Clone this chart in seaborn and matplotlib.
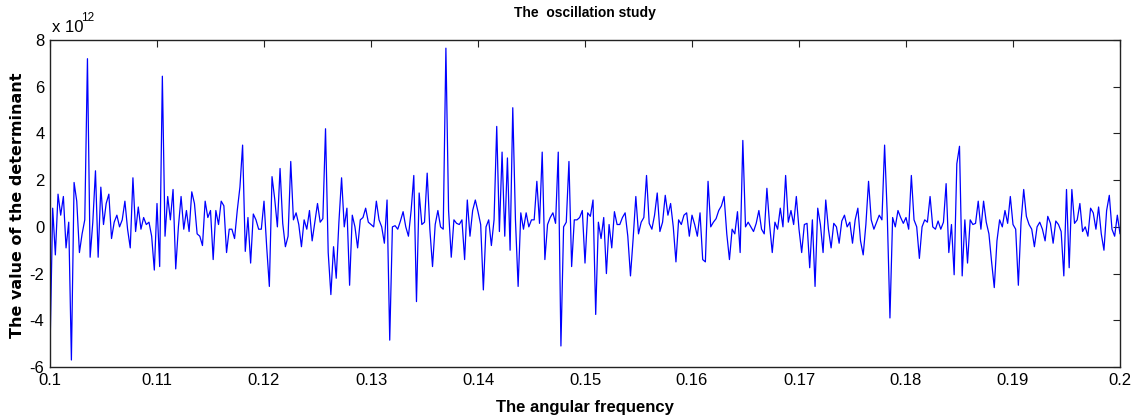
import numpy as np
import pandas as pd
import seaborn as sns
import matplotlib
matplotlib.use("Agg")
import matplotlib.pyplot as plt

# determinant values (units of 1e12), one list per 0.01 band
band_010 = [-5.3, 0.8, -1.2, 1.4, 0.5, 1.3, -0.9, 0.2, -5.7, 1.9,
            1.1, -1.1, -0.3, 0.3, 7.2, -1.3, 0.2, 2.4, -1.3, 1.7,
            0.1, 1.0, 1.4, -0.5, 0.2, 0.5, 0.0, 0.3, 1.1, -0.1,
            -0.9, 2.1, -0.2, 0.85, -0.1, 0.4, 0.1, 0.2, -0.4, -1.85]
band_011 = [1.0, -1.7, 6.45, -0.4, 1.3, 0.3, 1.6, -1.8, 0.0, 1.3,
            -0.1, 0.7, -0.2, 1.5, 1.0, -0.3, -0.4, -0.8, 1.1, 0.4,
            0.7, -1.4, 0.7, 0.1, 1.1, 0.9, -1.1, -0.1, -0.1, -0.5,
            0.7, 1.7, 3.5, -1.05, 0.4, -1.55, 0.55, 0.3, -0.1, -0.1]
band_012 = [1.1, -0.85, -2.55, 2.15, 1.2, 0.0, 2.5, 0.15, -0.85, -0.4,
            2.8, 0.3, 0.6, 0.1, -0.85, 0.3, -0.1, 0.7, -0.6, 0.2,
            1.0, 0.2, 0.35, 4.2, -1.1, -2.9, -0.85, -2.2, 0.2, 2.1,
            0.0, 0.8, -2.5, 0.5, 0.0, -0.9, 0.3, 0.4, 0.8, 0.2]
band_013 = [0.1, 0.0, 1.1, 0.3, 0.0, -0.7, 1.15, -4.85, 0.0, 0.05,
            -0.1, 0.25, 0.65, 0.0, -0.4, 0.7, 2.2, -3.2, 1.45, 0.1,
            0.2, 2.3, -0.1, -1.7, 0.1, 0.7, 0.0, -0.1, 7.65, 0.7,
            -1.3, 0.3, 0.15, 0.1, 0.3, -1.4, 1.15, -0.4, 0.7, 1.15]
band_014 = [0.65, 0.1, -2.7, 0.0, 0.3, -0.8, 0.3, 4.3, -0.2, 3.2,
            -0.4, 2.95, -1.0, 5.1, 0.3, -2.55, 0.6, -0.1, 0.6, 0.0,
            0.3, 0.3, 1.95, 0.15, 3.2, -1.4, 0.1, 0.4, 0.6, 0.15,
            3.2, -5.1, 0.0, 0.2, 2.8, -1.7, 0.3, 0.3, 0.4, 0.7]
band_015 = [-1.55, 0.6, 0.45, 1.15, -3.75, 0.2, -0.5, 0.4, -2.0, 0.1,
            -0.9, 0.65, 0.1, 0.1, 0.4, 0.6, -0.4, -2.1, -0.5, 1.3,
            -0.3, 0.2, 0.4, 2.2, 0.15, -0.1, 0.5, 1.45, -0.2, 0.2,
            1.35, 0.5, 1.0, 0.0, -1.5, 0.3, 0.1, 0.5, 0.6, -0.4]
band_016 = [0.5, 0.1, -0.4, 0.6, -1.4, -1.5, 1.95, 0.0, 0.2, 0.35,
            0.7, 0.9, 1.3, -0.3, -1.4, -0.1, -0.3, 0.65, -1.1, 3.7,
            0.0, 0.2, 0.0, -0.2, 0.15, 0.7, -0.1, -0.3, 1.65, 0.1,
            -1.1, 0.2, -0.1, 0.8, 0.0, 2.2, 0.2, 0.7, 0.1, 1.3]
band_017 = [-0.1, -1.1, 0.1, 0.15, -1.75, 0.3, -2.55, 0.8, 0.1, -1.1,
            1.15, -0.1, -0.9, 0.15, 0.0, -0.7, 0.25, 0.5, 0.0, 0.2,
            -0.7, 0.3, 0.8, -0.6, -1.2, 0.1, 1.95, 0.3, -0.1, 0.2,
            0.5, 0.3, 3.5, 0.5, -3.9, 0.4, 0.0, 0.7, 0.4, 0.15]
band_018 = [0.4, -0.1, 2.2, 0.3, 0.0, -1.35, 0.0, 0.3, 0.2, 1.3,
            0.0, -0.1, 0.25, -0.1, 0.2, 1.85, -1.1, 0.1, -2.05, 2.7,
            3.45, -2.1, 0.3, -1.55, 0.3, 0.1, 0.15, 1.1, -0.1, 1.1,
            0.2, -0.3, -1.5, -2.6, -0.6, 0.3, 0.0, 0.7, 0.15, 1.3]
band_019 = [0.1, -0.1, -2.5, 0.2, 1.6, 0.45, 0.1, -0.1, -0.85, 0.0,
            0.2, -0.1, -0.6, 0.45, 0.15, -0.7, 0.25, 0.1, -0.2, -2.1,
            1.6, -1.75, 1.6, 0.15, 0.3, 1.0, -0.2, 0.0, -0.4, 0.8,
            0.6, -0.1, 0.85, -0.3, -1.0, 0.7, 1.35, -0.1, -0.4, 0.5, -0.3]

freq_step = 0.00025
x_ticks = [0.1, 0.11, 0.12, 0.13, 0.14, 0.15, 0.16, 0.17, 0.18, 0.19, 0.2]
x_labels = ["0.1", "0.11", "0.12", "0.13", "0.14", "0.15", "0.16", "0.17", "0.18", "0.19", "0.2"]
y_ticks = [-6, -4, -2, 0, 2, 4, 6, 8]

det = (band_010 + band_011 + band_012 + band_013 + band_014 +
       band_015 + band_016 + band_017 + band_018 + band_019)
freq = np.round(0.1 + freq_step * np.arange(len(det)), 6)
df = pd.DataFrame({"w": freq, "det": det})

sns.set_style("white")
plt.rcParams["font.family"] = ["Liberation Sans", "DejaVu Sans"]
plt.rcParams["axes.unicode_minus"] = False
plt.rcParams["text.color"] = "black"

W, H = 1143, 419
fig = plt.figure(figsize=(W / 100, H / 100), dpi=100)
ax = fig.add_axes([50 / W, 1 - 367 / H, 1070 / W, 327 / H])

sns.lineplot(data=df, x="w", y="det", color="#0000ff", linewidth=0.9,
             estimator=None, sort=False, ax=ax)

ax.set_xlim(0.1, 0.2)
ax.set_ylim(-6, 8)
ax.set_xticks(x_ticks)
ax.set_xticklabels(x_labels)
ax.set_yticks(y_ticks)
ax.tick_params(direction="in", top=True, right=True, length=5, width=0.8,
               labelsize=12, pad=4, color="#222222", labelcolor="black")
for s in ax.spines.values():
    s.set_color("#222222")
    s.set_linewidth(1.0)
ax.set_xlabel("")
ax.set_ylabel("")

fig.text(585 / W, 1 - 13 / H, "The  oscillation study", ha="center", va="center",
         fontsize=10, fontweight="bold")
fig.text(585 / W, 1 - 407 / H, "The angular frequency", ha="center", va="center",
         fontsize=12, fontweight="bold")
fig.text(18 / W, 1 - 205 / H, "The value of the determinant", ha="center", va="center",
         rotation=90, fontsize=11.5, fontweight="bold", family=["DejaVu Sans"])
fig.text(52 / W, 1 - 28 / H, "x 10", ha="left", va="center", fontsize=12)
fig.text(81 / W, 1 - 18 / H, "12", ha="left", va="center", fontsize=8.5)

fig.savefig("out.png", dpi=100, facecolor="white")
